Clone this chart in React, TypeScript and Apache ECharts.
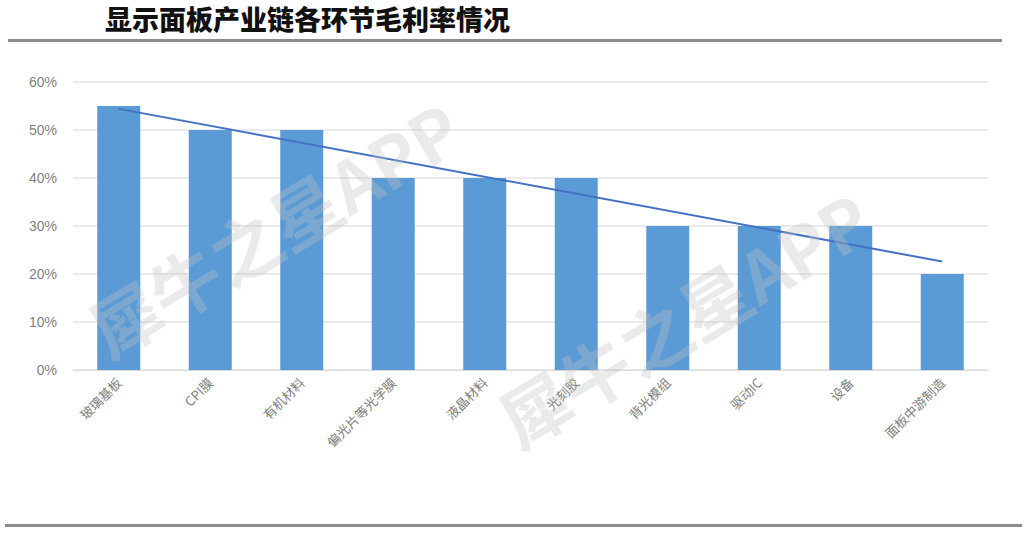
import React, { useEffect, useRef } from "react";
import * as echarts from "echarts";

const categories = ["玻璃基板", "CPI膜", "有机材料", "偏光片等光学膜", "液晶材料", "光刻胶", "背光模组", "驱动IC", "设备", "面板中游制造"];
const margins = [55, 50, 50, 40, 40, 40, 30, 30, 30, 20];
const trend = [54.4, null, null, null, null, null, null, null, null, 22.6];
const yTicks = { min: 0, max: 60, interval: 10 };
const title = "显示面板产业链各环节毛利率情况";
const watermark = "犀牛之星APP";

export default function App() {
  const ref = useRef<HTMLDivElement>(null);
  useEffect(() => {
    document.body.style.margin = "0";
    const chart = echarts.init(ref.current!, undefined, { renderer: "svg" });
    const wm = (x: number, y: number) => ({
      type: "text",
      x,
      y,
      rotation: (31 * Math.PI) / 180,
      style: {
        text: watermark,
        font: "bold 70px 'Noto Sans CJK SC'",
        fill: "rgba(190,190,190,0.33)",
        textVerticalAlign: "bottom",
      },
      z: 10,
    });
    chart.setOption({
      animation: false,
      backgroundColor: "#ffffff",
      grid: { left: 73, right: 36, top: 82, bottom: 167 },
      xAxis: {
        type: "category",
        data: categories,
        axisTick: { show: false },
        axisLine: { lineStyle: { color: "#d9d9d9" } },
        axisLabel: {
          rotate: 45,
          interval: 0,
          margin: 10,
          color: "#808080",
          fontSize: 13,
          fontFamily: "Noto Sans CJK SC",
        },
      },
      yAxis: {
        type: "value",
        min: yTicks.min,
        max: yTicks.max,
        interval: yTicks.interval,
        axisLabel: {
          formatter: "{value}%",
          color: "#7f7f7f",
          fontSize: 14,
          margin: 16,
          fontFamily: "Liberation Sans",
        },
        splitLine: { lineStyle: { color: "#e3e3e3", width: 1.5 } },
        axisLine: { show: false },
        axisTick: { show: false },
      },
      series: [
        {
          type: "bar",
          data: margins,
          barWidth: "47%",
          itemStyle: { color: "#5b9bd5" },
          z: 2,
        },
        {
          type: "line",
          data: trend,
          connectNulls: true,
          symbol: "none",
          lineStyle: { color: "#4472c4", width: 2 },
          z: 3,
        },
      ],
      graphic: [
        {
          type: "text",
          left: 105,
          top: 5,
          style: {
            text: title,
            font: "900 27px 'Noto Sans CJK SC'",
            fill: "#111111",
          },
        },
        {
          type: "rect",
          shape: { x: 8, y: 39, width: 994, height: 3 },
          style: { fill: "#8c8c8c" },
        },
        {
          type: "rect",
          shape: { x: 5, y: 524, width: 1017, height: 3 },
          style: { fill: "#8c8c8c" },
        },
        wm(112, 365),
        wm(522, 455),
      ],
    });
    return () => chart.dispose();
  }, []);
  return <div ref={ref} style={{ width: 1024, height: 537 }} />;
}
